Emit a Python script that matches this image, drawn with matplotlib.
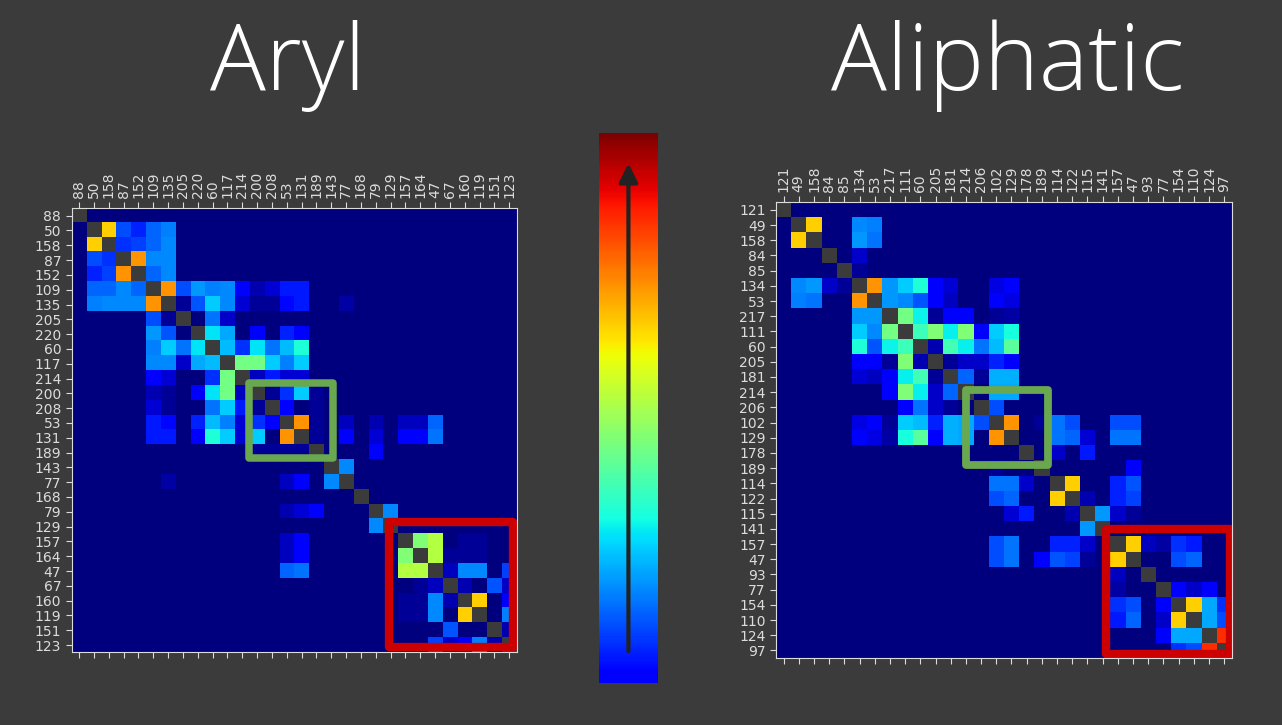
import numpy as np
import matplotlib
matplotlib.use("Agg")
import matplotlib.pyplot as plt
from matplotlib.patches import Rectangle

bg = "#3b3b3b"
fg = "#dcdcdc"

aryl_labels = ["88", "50", "158", "87", "152", "109", "135", "205", "220", "60",
               "117", "214", "200", "208", "53", "131", "189", "143", "77", "168",
               "79", "129", "157", "164", "47", "67", "160", "119", "151", "123"]

aliph_labels = ["121", "49", "158", "84", "85", "134", "53", "217", "111", "60",
                "205", "181", "214", "206", "102", "129", "178", "189", "114", "122",
                "115", "141", "157", "47", "93", "77", "154", "110", "124", "97"]

# (row, col, value) upper triangle, mirrored later
aryl_pairs = [
    (1, 2, 0.69), (1, 3, 0.20), (1, 4, 0.16), (1, 5, 0.225), (1, 6, 0.25),
    (2, 3, 0.175), (2, 4, 0.19), (2, 5, 0.225), (2, 6, 0.26),
    (3, 4, 0.75), (3, 5, 0.26), (3, 6, 0.26), (4, 5, 0.225), (4, 6, 0.26),
    (5, 6, 0.75), (5, 7, 0.20), (5, 8, 0.275), (5, 9, 0.25), (5, 10, 0.26),
    (5, 11, 0.12), (5, 12, 0.044), (5, 13, 0.077), (5, 14, 0.15), (5, 15, 0.15),
    (6, 7, 0.02), (6, 8, 0.21), (6, 9, 0.325), (6, 10, 0.26), (6, 11, 0.077),
    (6, 12, 0.022), (6, 13, 0.022), (6, 14, 0.13), (6, 15, 0.15), (6, 18, 0.033),
    (7, 9, 0.24), (7, 10, 0.066),
    (8, 9, 0.35), (8, 10, 0.29), (8, 12, 0.115), (8, 14, 0.16), (8, 15, 0.115),
    (9, 10, 0.31), (9, 11, 0.175), (9, 12, 0.35), (9, 13, 0.24), (9, 14, 0.31), (9, 15, 0.39),
    (10, 11, 0.49), (10, 12, 0.49), (10, 13, 0.325), (10, 14, 0.25), (10, 15, 0.325),
    (11, 12, 0.055), (11, 13, 0.15), (11, 14, 0.077), (11, 15, 0.077),
    (12, 13, 0.02), (12, 14, 0.175), (12, 15, 0.325), (12, 16, 0.022),
    (13, 14, 0.115), (13, 16, 0.022),
    (14, 15, 0.75), (14, 16, 0.022), (14, 18, 0.055), (14, 20, 0.044),
    (14, 22, 0.055), (14, 23, 0.055), (14, 24, 0.225),
    (15, 16, 0.022), (15, 18, 0.115), (15, 20, 0.077), (15, 22, 0.115),
    (15, 23, 0.115), (15, 24, 0.24),
    (16, 20, 0.115), (17, 18, 0.26), (20, 21, 0.26),
    (22, 23, 0.505), (22, 24, 0.57), (22, 26, 0.022), (22, 27, 0.022),
    (23, 24, 0.57), (23, 25, 0.022), (23, 26, 0.022), (23, 27, 0.022),
    (24, 25, 0.055), (24, 26, 0.26), (24, 27, 0.26), (24, 29, 0.19),
    (25, 26, 0.044), (25, 28, 0.21), (25, 29, 0.066),
    (26, 27, 0.69), (26, 29, 0.115), (27, 29, 0.25), (28, 29, 0.044),
]

aliph_pairs = [
    (1, 2, 0.69), (1, 5, 0.26), (1, 6, 0.25), (2, 5, 0.275), (2, 6, 0.24),
    (3, 5, 0.066), (4, 5, 0.022),
    (5, 6, 0.75), (5, 7, 0.275), (5, 8, 0.325), (5, 9, 0.39), (5, 10, 0.115),
    (5, 11, 0.077), (5, 14, 0.088), (5, 15, 0.115),
    (6, 7, 0.275), (6, 8, 0.26), (6, 9, 0.21), (6, 10, 0.115), (6, 11, 0.055),
    (6, 14, 0.115), (6, 15, 0.088),
    (7, 8, 0.49), (7, 9, 0.365), (7, 10, 0.022), (7, 11, 0.115), (7, 12, 0.115),
    (7, 14, 0.022), (7, 15, 0.033),
    (8, 9, 0.425), (8, 10, 0.505), (8, 11, 0.36), (8, 12, 0.505), (8, 13, 0.115),
    (8, 14, 0.325), (8, 15, 0.38),
    (9, 10, 0.044), (9, 11, 0.43), (9, 12, 0.36), (9, 13, 0.24), (9, 14, 0.31), (9, 15, 0.46),
    (10, 11, 0.022), (10, 12, 0.066), (10, 13, 0.066), (10, 14, 0.16), (10, 15, 0.115),
    (11, 12, 0.225), (11, 13, 0.022), (11, 14, 0.30), (11, 15, 0.30),
    (12, 14, 0.29), (12, 15, 0.29), (13, 14, 0.20),
    (14, 15, 0.75), (14, 17, 0.022), (14, 18, 0.24), (14, 19, 0.20), (14, 22, 0.20), (14, 23, 0.20),
    (15, 18, 0.24), (15, 19, 0.225), (15, 20, 0.077), (15, 22, 0.24), (15, 23, 0.24),
    (16, 18, 0.066), (16, 20, 0.15), (17, 23, 0.115),
    (18, 19, 0.69), (18, 22, 0.16), (18, 23, 0.21),
    (19, 20, 0.044), (19, 22, 0.16), (19, 23, 0.19),
    (20, 21, 0.275), (20, 22, 0.066), (20, 23, 0.022),
    (22, 23, 0.69), (22, 24, 0.055), (22, 25, 0.033), (22, 26, 0.175), (22, 27, 0.15),
    (23, 26, 0.20), (23, 27, 0.225),
    (25, 26, 0.115), (25, 27, 0.066), (25, 28, 0.115),
    (26, 27, 0.69), (26, 28, 0.29), (26, 29, 0.175),
    (27, 28, 0.29), (27, 29, 0.20), (28, 29, 0.86),
]


def build(n, pairs):
    m = np.zeros((n, n))
    for i, j, v in pairs:
        m[i, j] = v
        m[j, i] = v
    np.fill_diagonal(m, np.nan)
    return m


def draw_matrix(ax, m, labels):
    ax.imshow(m, cmap="jet", vmin=0, vmax=1, aspect="auto", interpolation="nearest")
    ax.set_facecolor("none")
    ticks = np.arange(len(labels))
    ax.set_xticks(ticks)
    ax.set_xticklabels(labels)
    ax.set_yticks(ticks)
    ax.set_yticklabels(labels)
    ax.tick_params(top=True, labeltop=True, bottom=True, labelbottom=False,
                   colors=fg, labelsize=10, length=4)
    ax.tick_params(axis="x", labelrotation=90)
    for s in ax.spines.values():
        s.set_color(fg)


fig = plt.figure(figsize=(12.82, 7.25), dpi=100, facecolor=bg)

ax1 = fig.add_axes([0.0559, 0.1001, 0.3471, 0.6126])
draw_matrix(ax1, build(30, aryl_pairs), aryl_labels)
ax1.add_patch(Rectangle((11.44, 11.27), 5.65, 5.08, fill=False, ec="#6aa84f",
                        lw=5.4, joinstyle="round", clip_on=False))
ax1.add_patch(Rectangle((20.91, 20.71), 8.36, 8.41, fill=False, ec="#cc0000",
                        lw=6, joinstyle="round", clip_on=False))

ax2 = fig.add_axes([0.6053, 0.0924, 0.3555, 0.6286])
draw_matrix(ax2, build(30, aliph_pairs), aliph_labels)
ax2.add_patch(Rectangle((12.04, 11.86), 5.38, 4.93, fill=False, ec="#6aa84f",
                        lw=5.6, joinstyle="round", clip_on=False))
ax2.add_patch(Rectangle((21.22, 21.03), 8.19, 8.23, fill=False, ec="#cc0000",
                        lw=6, joinstyle="round", clip_on=False))

# colour scale bar with arrow
cax = fig.add_axes([0.4672, 0.0579, 0.046, 0.7586])
grad = np.linspace(0.11, 1.0, 256)[:, None]
cax.imshow(grad, cmap="jet", vmin=0, vmax=1, aspect="auto", origin="lower",
           extent=[0, 1, 0, 1])
cax.set_xlim(0, 1)
cax.set_ylim(0, 1)
cax.axis("off")
cax.annotate("", xy=(0.5, 0.945), xytext=(0.5, 0.058),
             arrowprops=dict(arrowstyle="-|>", color="#222222", lw=3,
                             mutation_scale=28, shrinkA=0, shrinkB=0))

title_font = dict(family=["Open Sans", "DejaVu Sans"], fontweight="light",
                  fontsize=67, color="white", ha="center", va="baseline")
fig.text(287.5 / 1282, 1 - 90 / 725, "Aryl", **title_font)
fig.text(1008 / 1282, 1 - 90 / 725, "Aliphatic", **title_font)

fig.savefig("out.png", dpi=100, facecolor=bg)
